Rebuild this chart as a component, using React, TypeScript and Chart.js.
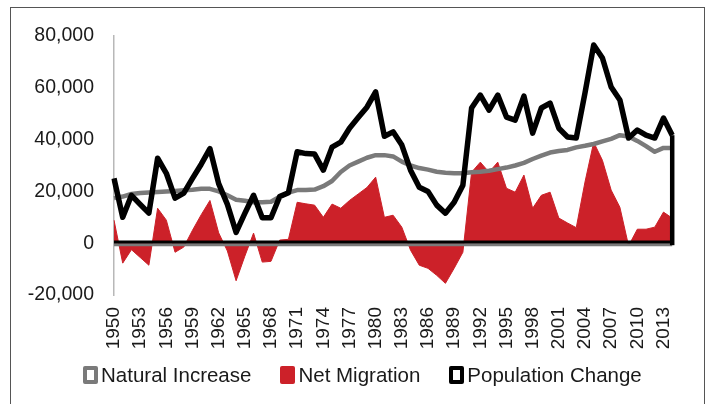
import React, { useEffect, useRef } from 'react';
import { Chart, registerables } from 'chart.js';

Chart.register(...registerables);

const years = [
  '1950', '1951', '1952', '1953', '1954', '1955', '1956', '1957', '1958', '1959',
  '1960', '1961', '1962', '1963', '1964', '1965', '1966', '1967', '1968', '1969',
  '1970', '1971', '1972', '1973', '1974', '1975', '1976', '1977', '1978', '1979',
  '1980', '1981', '1982', '1983', '1984', '1985', '1986', '1987', '1988', '1989',
  '1990', '1991', '1992', '1993', '1994', '1995', '1996', '1997', '1998', '1999',
  '2000', '2001', '2002', '2003', '2004', '2005', '2006', '2007', '2008', '2009',
  '2010', '2011', '2012', '2013', '2014',
];

const naturalIncrease = [
  17400, 18000, 19000, 19400, 19600, 19800, 20000, 20200, 20400, 20600,
  21000, 21000, 20000, 18500, 16800, 16400, 15800, 15800, 16000, 18000,
  19500, 20500, 20500, 20700, 22000, 24000, 27500, 30000, 31500, 33000,
  34000, 34000, 33500, 31500, 30000, 29000, 28400, 27600, 27200, 27000,
  27000, 27400, 27600, 28000, 28600, 29200, 30000, 31000, 32500, 33800,
  35000, 35600, 36000, 37000, 37600, 38300, 39300, 40300, 41700, 41200,
  39500, 37500, 35300, 36800, 36800,
];

const netMigration = [
  8900, -7700, -2500, -5500, -8500, 13500, 8900, -3500, -1500, 5000,
  11000, 16500, 4000, -3000, -14500, -5000, 3900, -7300, -7000, 1200,
  1500, 15800, 15200, 14700, 10000, 15100, 13500, 16500, 19000, 21500,
  25500, 10000, 10800, 6200, -2700, -8500, -9700, -12400, -15500, -9700,
  -3500, 27400, 31300, 27400, 31300, 21200, 19700, 26300, 13500, 18500,
  19700, 9700, 7800, 6000, 23600, 39000, 32000, 20500, 13900, -1000,
  5400, 5400, 6200, 12000, 9700,
];

const populationChange = [
  25000, 10000, 18500, 15000, 11600, 32800, 27000, 17400, 19300, 25000,
  30500, 36500, 23000, 15000, 4200, 11500, 18500, 9800, 9800, 18000,
  19500, 35300, 34600, 34400, 28200, 37100, 39000, 44400, 48500, 52500,
  58400, 41300, 43000, 37900, 28200, 21600, 20000, 14700, 11600, 15800,
  22400, 52200, 57200, 51400, 57200, 48700, 47500, 56800, 42500, 52200,
  54100, 44400, 41000, 40600, 58000, 76500, 71500, 60300, 55300, 40600,
  43700, 41700, 40600, 48300, 41700,
];

const yMin = -20000;
const yMax = 80000;
const yStep = 20000;
const xLabelEvery = 3;

const seriesNames = ['Natural Increase', 'Net Migration', 'Population Change'];
const RED = '#cc2129';
const GREY = '#7a7a7a';
const BLACK = '#000000';
const FONT = "'Liberation Sans', Arial, sans-serif";

const baselinePlugin = {
  id: 'baseline',
  afterDatasetsDraw(chart: any) {
    const { ctx, chartArea, scales } = chart;
    const y0 = scales.y.getPixelForValue(0);
    ctx.save();
    ctx.lineCap = 'butt';
    ctx.strokeStyle = GREY;
    ctx.lineWidth = 3;
    ctx.beginPath();
    ctx.moveTo(chartArea.left, y0 + 1.5);
    ctx.lineTo(chartArea.right, y0 + 1.5);
    ctx.stroke();
    ctx.strokeStyle = BLACK;
    ctx.lineWidth = 3;
    ctx.beginPath();
    ctx.moveTo(chartArea.left, y0 - 1.2);
    ctx.lineTo(chartArea.right, y0 - 1.2);
    ctx.stroke();
    const meta = chart.getDatasetMeta(2);
    const last = meta.data[meta.data.length - 1];
    if (last) {
      ctx.lineWidth = 4.5;
      ctx.beginPath();
      ctx.moveTo(last.x, last.y);
      ctx.lineTo(last.x, y0 + 2);
      ctx.stroke();
    }
    ctx.restore();
  },
};

export default function App() {
  const canvasRef = useRef<HTMLCanvasElement | null>(null);

  useEffect(() => {
    if (!canvasRef.current) return;
    const chart = new Chart(canvasRef.current, {
      type: 'line',
      data: {
        labels: years,
        datasets: [
          {
            label: seriesNames[0],
            data: naturalIncrease,
            borderColor: GREY,
            borderWidth: 4.5,
            pointRadius: 0,
            fill: false,
            tension: 0,
            order: 2,
            borderJoinStyle: 'round',
          },
          {
            label: seriesNames[1],
            data: netMigration,
            borderColor: RED,
            backgroundColor: RED,
            borderWidth: 1,
            pointRadius: 0,
            fill: 'origin',
            tension: 0,
            order: 3,
          },
          {
            label: seriesNames[2],
            data: populationChange,
            borderColor: BLACK,
            borderWidth: 5.5,
            pointRadius: 0,
            fill: false,
            tension: 0,
            order: 1,
            borderJoinStyle: 'round',
          },
        ],
      },
      options: {
        responsive: false,
        animation: false,
        layout: { padding: { top: 36, right: 15, left: 0, bottom: 0 } },
        plugins: {
          legend: { display: false },
          tooltip: { enabled: false },
        },
        scales: {
          x: {
            offset: false,
            grid: { display: false, drawTicks: false },
            border: { display: false },
            ticks: {
              autoSkip: false,
              maxRotation: 90,
              minRotation: 90,
              padding: 12,
              color: '#1a1a1a',
              font: { family: FONT, size: 19 },
              callback: (_v: any, i: number) => (i % xLabelEvery === 0 ? years[i] : ''),
            },
            afterFit: (scale: any) => {
              scale.height = 109;
            },
          },
          y: {
            min: yMin,
            max: yMax,
            grid: { display: false, drawTicks: false },
            border: { display: true, color: '#b8b8b8', width: 1.5 },
            ticks: {
              stepSize: yStep,
              padding: 20,
              color: '#1a1a1a',
              font: { family: FONT, size: 19.5 },
              callback: (v: any) => Number(v).toLocaleString('en-US'),
            },
            afterFit: (scale: any) => {
              scale.width = 114;
            },
          },
        },
      },
      plugins: [baselinePlugin],
    } as any);
    return () => chart.destroy();
  }, []);

  const legendItems = [
    { name: seriesNames[0], color: GREY, hollow: true },
    { name: seriesNames[1], color: RED, hollow: false },
    { name: seriesNames[2], color: BLACK, hollow: true },
  ];

  return (
    <div style={{ position: 'absolute', left: 0, top: 0, width: 707, height: 404, overflow: 'hidden', background: '#fff' }}>
      <div
        style={{
          position: 'absolute',
          left: 10,
          top: 7,
          width: 695,
          height: 397,
          boxSizing: 'border-box',
          borderTop: '1px solid #555',
          borderLeft: '1px solid #555',
          borderRight: '1px solid #555',
        }}
      />
      <canvas ref={canvasRef} width={707} height={404} style={{ position: 'absolute', left: 0, top: 0, display: 'block' }} />
      <div
        style={{
          position: 'absolute',
          left: 83,
          top: 363,
          height: 24,
          display: 'flex',
          alignItems: 'center',
          fontFamily: FONT,
          fontSize: 20.5,
          color: '#1a1a1a',
          whiteSpace: 'nowrap',
        }}
      >
        {legendItems.map((it, i) => (
          <div key={it.name} style={{ display: 'flex', alignItems: 'center', marginLeft: i === 0 ? 0 : 29 }}>
            <span
              style={{
                display: 'inline-block',
                width: 15,
                height: 18,
                boxSizing: 'border-box',
                borderRadius: 2,
                background: it.hollow ? '#fff' : it.color,
                border: it.hollow ? `4px solid ${it.color}` : 'none',
                marginRight: 3,
              }}
            />
            <span>{it.name}</span>
          </div>
        ))}
      </div>
    </div>
  );
}
